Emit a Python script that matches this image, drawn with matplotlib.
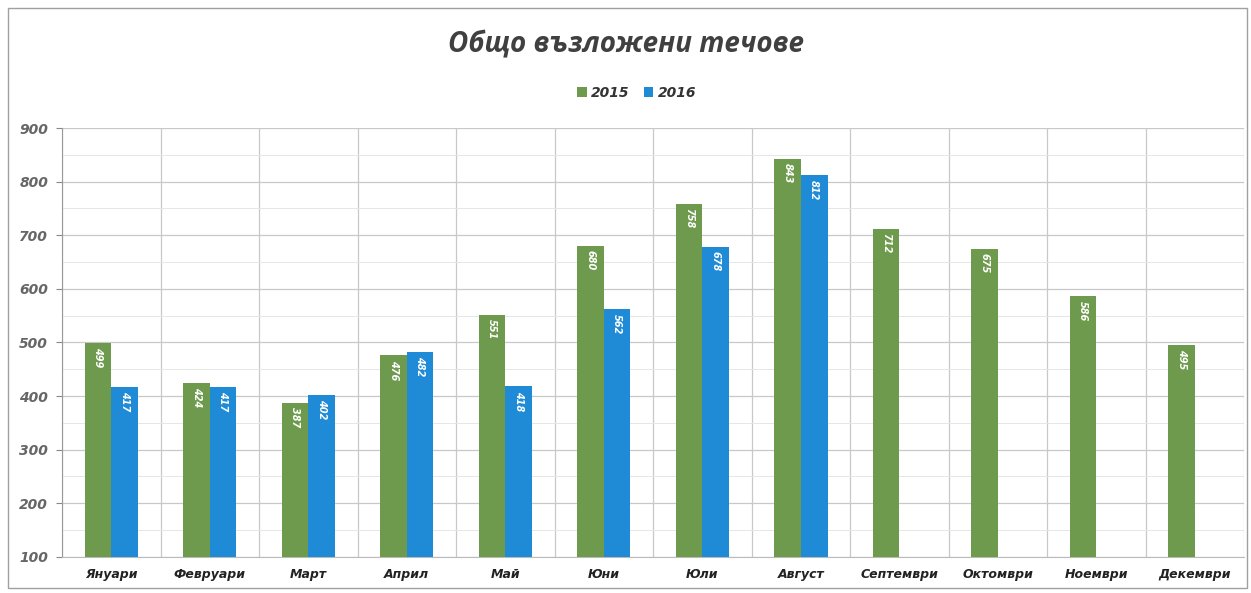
import matplotlib
matplotlib.use("Agg")
import matplotlib.pyplot as plt
import numpy as np
from matplotlib.patches import Rectangle

months = ["Януари", "Февруари", "Март", "Април", "Май", "Юни", "Юли",
          "Август", "Септември", "Октомври", "Ноември", "Декември"]
series_2015 = [499, 424, 387, 476, 551, 680, 758, 843, 712, 675, 586, 495]
series_2016 = [417, 417, 402, 482, 418, 562, 678, 812]
yticks = [100, 200, 300, 400, 500, 600, 700, 800, 900]

GREEN = "#6E9A4E"
BLUE = "#1F8AD6"

fig = plt.figure(figsize=(12.51, 5.93), dpi=100)
fig.patch.set_facecolor("white")
fig.patches.append(Rectangle((0.006, 0.008), 0.991, 0.978, transform=fig.transFigure,
                             fill=False, edgecolor="#A0A0A0", linewidth=1.0))

ax = fig.add_axes([0.0496, 0.061, 0.945, 0.723])
x = np.arange(len(months))
w = 0.27
b1 = ax.bar(x[:len(series_2015)] - w / 2, np.array(series_2015) - 100, w, bottom=100,
            color=GREEN, label="2015", zorder=3)
b2 = ax.bar(x[:len(series_2016)] + w / 2, np.array(series_2016) - 100, w, bottom=100,
            color=BLUE, label="2016", zorder=3)

for bars, vals in ((b1, series_2015), (b2, series_2016)):
    for r, v in zip(bars, vals):
        ax.text(r.get_x() + r.get_width() / 2, v - 8, str(v), rotation=-90,
                ha="center", va="top", color="white", fontsize=7,
                fontweight="bold", fontstyle="italic", zorder=4)

ax.set_xlim(-0.5, len(months) - 0.5)
ax.set_ylim(100, 900)
ax.set_yticks(yticks)
ax.set_yticklabels([str(t) for t in yticks], fontsize=10, fontweight="bold",
                   fontstyle="italic", color="#666666")
ax.set_xticks(x)
ax.set_xticklabels(months, fontsize=9, fontweight="bold", fontstyle="italic",
                   color="#222222")
ax.tick_params(axis="x", length=0, pad=8)
ax.tick_params(axis="y", length=4, color="#888888", pad=6)

ax.set_xticks(np.arange(-0.5, len(months), 1.0), minor=True)
ax.set_yticks(np.arange(150, 900, 100), minor=True)
ax.tick_params(which="minor", length=0)
ax.grid(axis="y", which="major", color="#C8C8C8", linewidth=0.9, zorder=0)
ax.grid(axis="y", which="minor", color="#E6E6E6", linewidth=0.7, zorder=0)
ax.grid(axis="x", which="minor", color="#C8C8C8", linewidth=0.9, zorder=0)

for s in ("top", "right"):
    ax.spines[s].set_visible(False)
ax.spines["left"].set_color("#999999")
ax.spines["bottom"].set_color("#BBBBBB")

fig.text(0.5, 0.925, "Общо възложени течове", ha="center", va="center",
         fontsize=20, fontweight="bold", fontstyle="italic", color="#404040",
         family=["Open Sans", "DejaVu Sans"])

leg = fig.legend(handles=[b1, b2], labels=["2015", "2016"], loc="center",
                 bbox_to_anchor=(0.509, 0.843), ncol=2, frameon=False,
                 handlelength=0.7, handleheight=0.7, handletextpad=0.3,
                 columnspacing=1.0, prop={"size": 10, "weight": "bold", "style": "italic"})
for t in leg.get_texts():
    t.set_color("#333333")

fig.savefig("out.png", dpi=100)
